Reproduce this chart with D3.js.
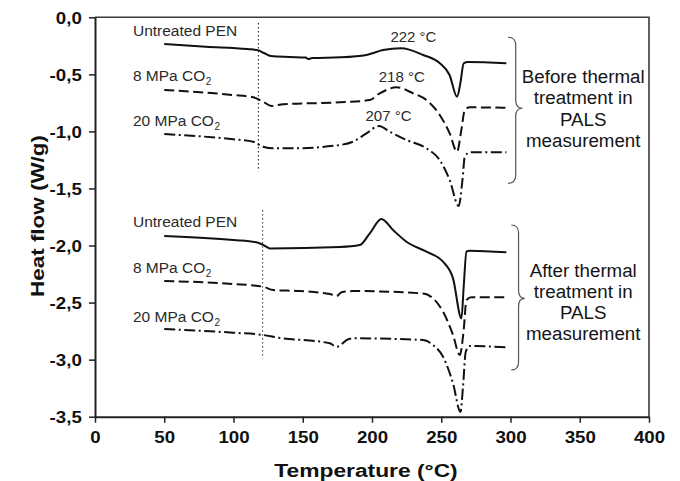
<!DOCTYPE html>
<html>
<head>
<meta charset="utf-8">
<script src="https://cdn.jsdelivr.net/npm/d3@7"></script>
<style>
  html, body { margin: 0; padding: 0; background: #fff; }
  svg { display: block; font-family: "Liberation Sans", Arial, Helvetica, sans-serif; }
</style>
</head>
<body>
<svg id="chart" width="680" height="481"></svg>
<script>
// DSC thermograms of PEN, before and after thermal treatment
const xTicks = [0, 50, 100, 150, 200, 250, 300, 350, 400];
const yTicks = [0, -0.5, -1, -1.5, -2, -2.5, -3, -3.5];

// Before thermal treatment
const beforeUntreatedT  = [50, 80, 110, 118, 122, 127, 140, 152, 154, 157, 177, 196, 208, 221, 237, 249, 256, 261.4, 263.8, 266.2, 269.4, 297];
const beforeUntreatedHF = [-0.234, -0.258, -0.278, -0.29, -0.313, -0.34, -0.348, -0.352, -0.365, -0.357, -0.351, -0.33, -0.287, -0.272, -0.33, -0.403, -0.506, -0.696, -0.578, -0.403, -0.392, -0.403];

const before8T  = [50, 99.8, 114.2, 121.4, 127.5, 135.9, 176.8, 198.4, 205.6, 217.7, 229.7, 239.3, 248.9, 256.1, 261.4, 264.5, 267, 270.6, 297];
const before8HF = [-0.637, -0.681, -0.701, -0.74, -0.777, -0.762, -0.745, -0.725, -0.666, -0.614, -0.666, -0.725, -0.856, -1.017, -1.178, -0.988, -0.812, -0.789, -0.792];

const before20T  = [50, 99.8, 114.2, 121.4, 128.7, 143, 176.8, 186.4, 196, 205.1, 212.8, 224.9, 239.3, 248.9, 256.1, 262.6, 265.3, 267, 270.6, 297];
const before20HF = [-1.023, -1.069, -1.09, -1.134, -1.148, -1.148, -1.119, -1.09, -1.017, -0.953, -1.003, -1.075, -1.148, -1.251, -1.426, -1.654, -1.426, -1.222, -1.183, -1.183];

// After thermal treatment
const afterUntreatedT  = [50, 99.8, 117.8, 122.7, 126.3, 176.8, 191.2, 198.4, 206.8, 215.2, 224.9, 239.3, 251.3, 258.5, 264.6, 266.2, 268.2, 270.6, 297];
const afterUntreatedHF = [-1.917, -1.952, -1.975, -2.004, -2.025, -2.013, -1.996, -1.893, -1.768, -1.864, -1.967, -2.054, -2.142, -2.288, -2.638, -2.361, -2.054, -2.045, -2.06];

const after8T  = [50, 99.8, 121.4, 128.7, 147.9, 169.5, 174.4, 178, 186.4, 236.9, 244.1, 251.3, 258.5, 263.4, 266.2, 268.2, 271.8, 297];
const after8HF = [-2.311, -2.337, -2.361, -2.39, -2.399, -2.425, -2.443, -2.41, -2.399, -2.42, -2.463, -2.58, -2.784, -2.96, -2.741, -2.478, -2.454, -2.454];

const after20T  = [50, 99.8, 121.4, 131.1, 169.5, 174.4, 177, 181.6, 186.4, 236.9, 244.1, 251.3, 258.5, 263.9, 265.7, 267.7, 270.6, 297];
const after20HF = [-2.732, -2.764, -2.784, -2.805, -2.857, -2.887, -2.875, -2.828, -2.813, -2.828, -2.872, -2.975, -3.208, -3.457, -3.238, -2.931, -2.881, -2.892];

// Curve labels: [text, subscript, T, heat flow at baseline]
const seriesLabels = [
  ["Untreated PEN", "", 27.4, -0.164],
  ["8 MPa CO", "2", 27.4, -0.558],
  ["20 MPa CO", "2", 27.4, -0.953],
  ["Untreated PEN", "", 27.4, -1.835],
  ["8 MPa CO", "2", 27.4, -2.244],
  ["20 MPa CO", "2", 27.4, -2.668]
];
// Peak temperature labels: [text, T centre, heat flow at baseline]
const peakLabels = [
  ["222 °C", 229.9, -0.214],
  ["218 °C", 221.5, -0.57],
  ["207 °C", 211.9, -0.906]
];
// Glass-transition markers: [T, top, bottom]
const tgMarkers = [[118, -0.05, -1.35], [121, -1.69, -2.99]];
// Group braces: [T left, T tip, top, middle, bottom]
const braces = [[298.2, 308.6, -0.175, -0.797, -1.455], [300.6, 310.3, -1.82, -2.463, -3.09]];
const groupTexts = [
  [["Before thermal", "treatment in", "PALS", "measurement"], 352.5, -0.577],
  [["After thermal", "treatment in", "PALS", "measurement"], 352.5, -2.273]
];

const svg = d3.select("#chart");
const plotLeft = 95, plotRight = 649, plotTop = 17.3, plotBottom = 416.7;

const x = d3.scaleLinear().domain([0, 400]).range([plotLeft, plotRight]);
const y = d3.scaleLinear().domain([-3.5, 0]).range([plotBottom, plotTop]);

const locale = d3.formatLocale({decimal: ",", thousands: ".", grouping: [3], currency: ["", ""], minus: "-"});
const fmt = locale.format(".1f");

// frame (top and right)
svg.append("path")
  .attr("d", `M${plotLeft},${plotTop}H${plotRight}V${plotBottom}`)
  .attr("fill", "none").attr("stroke", "#3a3a3a").attr("stroke-width", 1.6);

// axes
const gx = svg.append("g").attr("transform", `translate(0,${plotBottom})`)
  .call(d3.axisBottom(x).tickValues(xTicks).tickSize(6).tickPadding(8).tickSizeOuter(0));
const gy = svg.append("g").attr("transform", `translate(${plotLeft},0)`)
  .call(d3.axisLeft(y).tickValues(yTicks).tickSize(6).tickPadding(6).tickFormat(fmt).tickSizeOuter(0));

[gx, gy].forEach(g => {
  g.select(".domain").attr("stroke", "#222").attr("stroke-width", 2);
  g.selectAll(".tick line").attr("stroke", "#222").attr("stroke-width", 1.5);
  g.selectAll(".tick text")
    .attr("fill", "#111")
    .attr("font-size", 17)
    .attr("font-weight", "bold")
    .attr("font-family", "'Liberation Sans', Arial, sans-serif")
    .attr("transform", "scale(1.1,1)");
});
gy.selectAll(".tick text").attr("dy", "0.36em");

// axis titles
svg.append("text")
  .attr("transform", `translate(${(plotLeft + plotRight) / 2 - 6},476.5) scale(1.2,1)`)
  .attr("text-anchor", "middle")
  .attr("font-size", 19).attr("font-weight", "bold").attr("fill", "#111")
  .text("Temperature (°C)");
svg.append("text")
  .attr("transform", "translate(43.5,216) rotate(-90) scale(1.18,1)")
  .attr("text-anchor", "middle")
  .attr("font-size", 19).attr("font-weight", "bold").attr("fill", "#111")
  .text("Heat flow (W/g)");

// glass-transition dotted lines
svg.append("g").selectAll("line").data(tgMarkers).join("line")
  .attr("x1", d => x(d[0])).attr("x2", d => x(d[0]))
  .attr("y1", d => y(d[1])).attr("y2", d => y(d[2]))
  .attr("stroke", "#333").attr("stroke-width", 1.2)
  .attr("stroke-dasharray", "1.4,2.6");

// curves
const line = d3.line()
  .x(d => x(d[0])).y(d => y(d[1]))
  .curve(d3.curveMonotoneX);
const zipSeries = (ts, vs) => ts.map((t, i) => [t, vs[i]]);

const curves = [
  {data: zipSeries(beforeUntreatedT, beforeUntreatedHF), dash: null},
  {data: zipSeries(before8T, before8HF), dash: "10,4.5"},
  {data: zipSeries(before20T, before20HF), dash: "11,3.5,2,3.5"},
  {data: zipSeries(afterUntreatedT, afterUntreatedHF), dash: null},
  {data: zipSeries(after8T, after8HF), dash: "10,4.5"},
  {data: zipSeries(after20T, after20HF), dash: "11,3.5,2,3.5"}
];
svg.append("g").selectAll("path").data(curves).join("path")
  .attr("d", d => line(d.data))
  .attr("fill", "none")
  .attr("stroke", "#111")
  .attr("stroke-width", 2)
  .attr("stroke-linejoin", "round")
  .attr("stroke-dasharray", d => d.dash);

// series labels
const sl = svg.append("g").selectAll("text").data(seriesLabels).join("text")
  .attr("x", d => x(d[2])).attr("y", d => y(d[3]))
  .attr("font-size", 15.5).attr("fill", "#2a2a2a");
sl.append("tspan").text(d => d[0]);
sl.filter(d => d[1]).append("tspan")
  .attr("font-size", 10).attr("dy", 4).attr("dx", 0.5).text(d => d[1]);

// peak labels
svg.append("g").selectAll("text").data(peakLabels).join("text")
  .attr("x", d => x(d[1])).attr("y", d => y(d[2]))
  .attr("text-anchor", "middle")
  .attr("font-size", 15).attr("fill", "#2a2a2a")
  .text(d => d[0]);

// braces
svg.append("g").selectAll("path").data(braces).join("path")
  .attr("d", d => {
    const xl = x(d[0]), xt = x(d[1]), xv = (xl + xt) / 2 + 0.5;
    const yt = y(d[2]), ym = y(d[3]), yb = y(d[4]), r = 8;
    return `M${xl},${yt}Q${xv},${yt} ${xv},${yt + r}L${xv},${ym - r}Q${xv},${ym} ${xt},${ym}` +
           `Q${xv},${ym} ${xv},${ym + r}L${xv},${yb - r}Q${xv},${yb} ${xl},${yb}`;
  })
  .attr("fill", "none").attr("stroke", "#555").attr("stroke-width", 1.2);

// group descriptions
groupTexts.forEach(([lines, t, hf]) => {
  const cx = x(t), y0 = y(hf);
  lines.forEach((s, i) => {
    svg.append("text")
      .attr("transform", `translate(${cx},${y0 + i * 21.2}) scale(1.04,1)`)
      .attr("text-anchor", "middle")
      .attr("font-size", 18).attr("fill", "#151515")
      .text(s);
  });
});
</script>
</body>
</html>
